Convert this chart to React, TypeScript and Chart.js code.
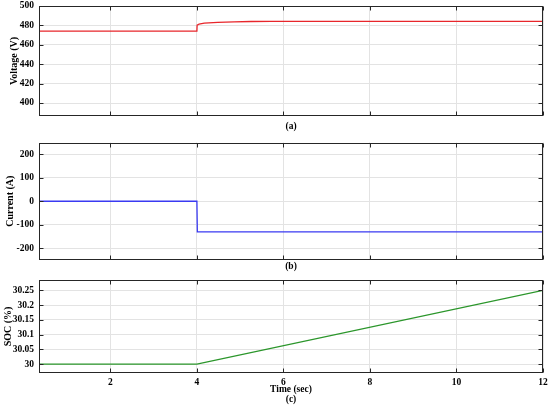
import React, { useEffect, useRef } from 'react';
import { Chart, registerables } from 'chart.js';

Chart.register(...registerables);

// ---- data ----
const xTicks = [2, 4, 6, 8, 10, 12];

const voltageTime = [0.35, 4.0, 4.005, 4.05, 4.17, 4.48, 4.86, 5.25, 5.71, 6.5, 8, 10, 12];
const voltageValues = [474, 474, 480.3, 481.2, 482.3, 483.2, 483.7, 484.0, 484.1, 484.2, 484.2, 484.2, 484.2];
const voltageTicks = [400, 420, 440, 460, 480, 500];

const currentTime = [0.35, 4.0, 4.01, 12];
const currentValues = [0, 0, -130, -130];
const currentTicks = [-200, -100, 0, 100, 200];

const socTime = [0.35, 4.0, 12];
const socValues = [30, 30, 30.25];
const socTicks = [30, 30.05, 30.1, 30.15, 30.2, 30.25];

const FONT = 'Liberation Serif';

const framePlugin = {
  id: 'frame',
  afterDatasetsDraw(chart: any) {
    const { ctx, chartArea: a, scales } = chart;
    ctx.save();
    ctx.strokeStyle = '#262626';
    ctx.lineWidth = 1;
    const L = Math.round(a.left) + 0.5;
    const R = Math.round(a.right) - 0.5;
    const T = Math.round(a.top) + 0.5;
    const B = Math.round(a.bottom) - 0.5;
    ctx.strokeRect(L, T, R - L, B - T);
    const len = 4;
    ctx.beginPath();
    scales.x.ticks.forEach((t: any) => {
      const px = Math.round(scales.x.getPixelForValue(t.value)) + 0.5;
      ctx.moveTo(px, T);
      ctx.lineTo(px, T + len);
      ctx.moveTo(px, B);
      ctx.lineTo(px, B - len);
    });
    scales.y.ticks.forEach((t: any) => {
      const py = Math.round(scales.y.getPixelForValue(t.value)) + 0.5;
      ctx.moveTo(L, py);
      ctx.lineTo(L + len, py);
      ctx.moveTo(R, py);
      ctx.lineTo(R - len, py);
    });
    ctx.stroke();
    ctx.restore();
  },
};

type PanelProps = {
  top: number;
  height: number;
  padTop: number;
  axisHeight: number;
  times: number[];
  values: number[];
  color: string;
  yMin: number;
  yMax: number;
  yTicks: number[];
  yTitle: string;
  yTitlePad: number;
  xTitle: string[];
  xTitlePad: number;
  showXLabels: boolean;
};

function Panel(p: PanelProps) {
  const ref = useRef<HTMLCanvasElement | null>(null);
  useEffect(() => {
    if (!ref.current) return;
    const pts = p.times.map((t, i) => ({ x: t, y: p.values[i] }));
    const chart = new Chart(ref.current, {
      type: 'line',
      data: {
        datasets: [
          {
            data: pts,
            borderColor: p.color,
            borderWidth: 1.3,
            pointRadius: 0,
            tension: 0,
            fill: false,
          },
        ],
      },
      options: {
        animation: false,
        responsive: false,
        devicePixelRatio: 1,
        layout: { padding: { top: p.padTop, right: 7, left: 0, bottom: 0 } },
        plugins: { legend: { display: false }, tooltip: { enabled: false } },
        scales: {
          x: {
            type: 'linear',
            min: 0.35,
            max: 12,
            afterBuildTicks: (s: any) => {
              s.ticks = xTicks.map((v) => ({ value: v }));
            },
            afterFit: (s: any) => {
              s.height = p.axisHeight;
              s.paddingLeft = 0;
              s.paddingRight = 0;
            },
            grid: { color: '#e3e3e3', drawTicks: false, lineWidth: 1 },
            border: { display: false },
            ticks: {
              display: p.showXLabels,
              padding: 4,
              color: '#000',
              font: { family: FONT, weight: 'bold', size: 9.5 },
              maxRotation: 0,
              callback: (v: any) => String(v),
            },
            title: {
              display: true,
              text: p.xTitle,
              color: '#000',
              font: { family: FONT, weight: 'bold', size: 9.5, lineHeight: 1.05 },
              padding: { top: 0, bottom: p.xTitlePad },
            },
          },
          y: {
            type: 'linear',
            min: p.yMin,
            max: p.yMax,
            afterBuildTicks: (s: any) => {
              s.ticks = p.yTicks.map((v) => ({ value: v }));
            },
            afterFit: (s: any) => {
              s.width = 39;
              s.paddingTop = 0;
              s.paddingBottom = 0;
            },
            grid: { color: '#e3e3e3', drawTicks: false, lineWidth: 1 },
            border: { display: false },
            ticks: {
              padding: 5,
              color: '#000',
              font: { family: FONT, weight: 'bold', size: 9.5 },
              callback: (v: any) => String(v),
            },
            title: {
              display: true,
              text: p.yTitle,
              color: '#000',
              font: { family: FONT, weight: 'bold', size: 10 },
              padding: { top: p.yTitlePad, bottom: 0 },
            },
          },
        },
      } as any,
      plugins: [framePlugin],
    });
    return () => chart.destroy();
  }, []);
  return (
    <canvas
      ref={ref}
      width={550}
      height={p.height}
      style={{ position: 'absolute', left: 0, top: p.top, width: 550, height: p.height, display: 'block' }}
    />
  );
}

export default function App() {
  return (
    <div style={{ position: 'absolute', left: 0, top: 0, width: 550, height: 406, background: '#fff' }}>
      <Panel
        top={0}
        height={136}
        padTop={6}
        axisHeight={20}
        times={voltageTime}
        values={voltageValues}
        color="#e8262b"
        yMin={386.6}
        yMax={500}
        yTicks={voltageTicks}
        yTitle="Voltage (V)"
        yTitlePad={8}
        xTitle={['(a)']}
        xTitlePad={4.3}
        showXLabels={false}
      />
      <Panel
        top={136}
        height={140}
        padTop={6.5}
        axisHeight={16}
        times={currentTime}
        values={currentValues}
        color="#3a3af2"
        yMin={-250}
        yMax={250}
        yTicks={currentTicks}
        yTitle="Current (A)"
        yTitlePad={4}
        xTitle={['(b)']}
        xTitlePad={4.3}
        showXLabels={false}
      />
      <Panel
        top={270}
        height={136}
        padTop={10}
        axisHeight={33}
        times={socTime}
        values={socValues}
        color="#2b962b"
        yMin={29.97}
        yMax={30.285}
        yTicks={socTicks}
        yTitle="SOC (%)"
        yTitlePad={2}
        xTitle={['Time (sec)', '(c)']}
        xTitlePad={1.8}
        showXLabels={true}
      />
    </div>
  );
}
